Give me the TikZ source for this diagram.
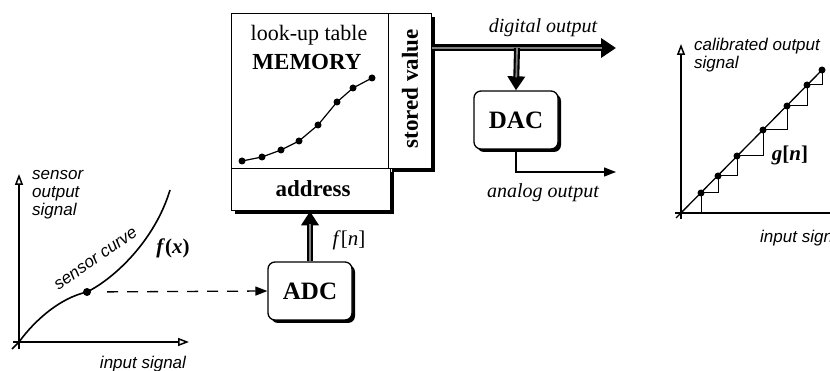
\documentclass[tikz,border=0pt]{standalone}
\usepackage{fontspec}
\setmainfont{Liberation Serif}
\newfontfamily\plotfont{Liberation Sans}
\usetikzlibrary{arrows.meta,shadows}
\begin{document}
\begin{tikzpicture}[x=1pt,y=-1pt,
  cell/.style={draw, line width=1.3pt, fill=white, inner sep=0pt, anchor=north west},
  shcell/.style={cell, general shadow={fill=black, shadow xshift=3pt, shadow yshift=-3pt}},
  convbox/.style={draw, line width=1.3pt, fill=white, rounded corners=7pt, minimum width=84pt, minimum height=58pt, inner sep=0pt,
    font=\fontsize{25}{27}\selectfont\bfseries,
    general shadow={fill=black, rounded corners=7pt, shadow xshift=3pt, shadow yshift=-3pt}},
  dot/.style={circle, fill=black, inner sep=0pt, minimum size=7pt},
  axis/.style={line width=1.5pt, -{Triangle[open, length=11pt, width=8pt]}},
  bus/.style={line width=7pt, -{Triangle[length=15pt, width=19pt]}, postaction={draw=black!50, line width=2pt, shorten >=14pt, -}},
  bussmall/.style={line width=6pt, -{Triangle[length=14pt, width=17pt]}, postaction={draw=black!50, line width=1.8pt, shorten >=13pt, -}},
  thinarrow/.style={line width=1.3pt, -{Triangle[length=12pt, width=9pt]}},
  plotlab/.style={font=\plotfont\itshape\fontsize{17}{18}\selectfont, inner sep=0pt},
  boldlab/.style={font=\fontsize{23}{25}\selectfont\bfseries, inner sep=0pt},
  seriflab/.style={font=\fontsize{22}{24}\selectfont, inner sep=0pt},
  itlab/.style={font=\fontsize{20}{22}\selectfont\itshape, inner sep=0pt},
  mathlab/.style={font=\fontsize{21}{23}\selectfont, inner sep=0pt},
  stair/.style={line width=1pt},
  curve/.style={line width=1.6pt}
]
\useasboundingbox (0,0) rectangle (830,371);
\fill[white] (0,0) rectangle (830,371);

% ---------- memory block ----------
\node[cell, minimum width=157pt, minimum height=155pt] (mem) at (231,13) {};
\node[shcell, minimum width=43pt, minimum height=155pt] (sv) at (388,13) {};
\node[shcell, minimum width=159pt, minimum height=42pt] (addr) at (231,168) {};

\node[seriflab] (lut) at (309,35) {look-up table};
\node[boldlab] (memt) at (307,62) {MEMORY};
\node[boldlab, rotate=90] (svt) at (410,89) {stored value};
\node[boldlab] (addrt) at (313,189) {address};

\foreach \p [count=\i] in {(242,161),(262,157),(281,150),(299,141),(318,125),(337,102),(353,88),(372,78)}
  \node[dot] (m\i) at \p {};
\draw[line width=1.2pt] (m1.center) -- (m2.center) -- (m3.center) -- (m4.center) -- (m5.center) -- (m6.center) -- (m7.center) -- (m8.center);

% ---------- converters ----------
\node[convbox] (dac) at (516,120) {DAC};
\node[convbox] (adc) at (310,291) {ADC};

\coordinate (dout) at (616,48);
\coordinate (br) at (517,48);
\coordinate (aout) at (616,172);

\draw[bus] (sv.east |- dout) -- (dout);
\draw[bussmall] (br) -- (dac.north);
\draw[thinarrow] (dac.south) |- (aout);
\draw[bussmall] (adc.north) -- (adc.north |- addr.south);

\node[itlab] (dl) at (543,28) {digital output};
\node[itlab] (al) at (543,193) {analog output};
\node[mathlab] (fn) at (349,240) {\textit{f}[\textit{n}]};

% ---------- sensor plot ----------
\coordinate (o1) at (19,342);
\coordinate (y1a) at (19,349);
\coordinate (y1b) at (19,174);
\coordinate (x1a) at (13,342);
\coordinate (x1b) at (189,342);
\coordinate (c0) at (12,349);
\coordinate (c3) at (170,190);
\draw[axis] (y1a) -- (y1b);
\draw[axis] (x1a) -- (x1b);
\node[dot, minimum size=8pt] (sd) at (87,292) {};
\draw[curve] (c0) -- (o1) .. controls (35,320) and (60,298) .. (sd.center) .. controls (115,278) and (155,240) .. (c3);
\draw[thinarrow, dash pattern=on 11pt off 9pt, shorten <=16pt] (sd) -- (adc.west);

\node[plotlab, anchor=north west, align=left] (sol) at (32,170) {sensor\\output\\signal};
\node[plotlab, rotate=35] (scl) at (96,259) {sensor curve};
\node[mathlab, font=\fontsize{21}{23}\selectfont\bfseries] (fx) at (173,248) {\textit{f}(\textit{x})};
\node[plotlab] (isl) at (143,364) {input signal};

% ---------- calibrated plot ----------
\coordinate (o2) at (681,213);
\coordinate (y2a) at (681,219);
\coordinate (y2b) at (681,44);
\coordinate (x2a) at (675,213);
\coordinate (x2b) at (845,213);
\coordinate (d0) at (676,218);
\draw[axis] (y2a) -- (y2b);
\draw[line width=1.5pt] (x2a) -- (x2b);
\foreach \p [count=\i] in {(701,193),(718,176),(737,156),(763,130),(787,106),(807,85),(822,70)}
  \node[dot] (r\i) at \p {};
\draw[line width=1.3pt] (d0) -- (r7.center);
\draw[stair] (r1.center |- o2) -- (r1.center) -| (r2.center) -| (r3.center) -| (r4.center) -| (r5.center) -| (r6.center) -| (r7.center);

\node[plotlab, anchor=north west, align=left] (cal) at (694,38) {calibrated output\\signal};
\node[mathlab, font=\fontsize{21}{23}\selectfont\bfseries] (gn) at (790,155) {\textit{g}[\textit{n}]};
\node[plotlab, anchor=west] (isr) at (760,238) {input signal};
\end{tikzpicture}
\end{document}
